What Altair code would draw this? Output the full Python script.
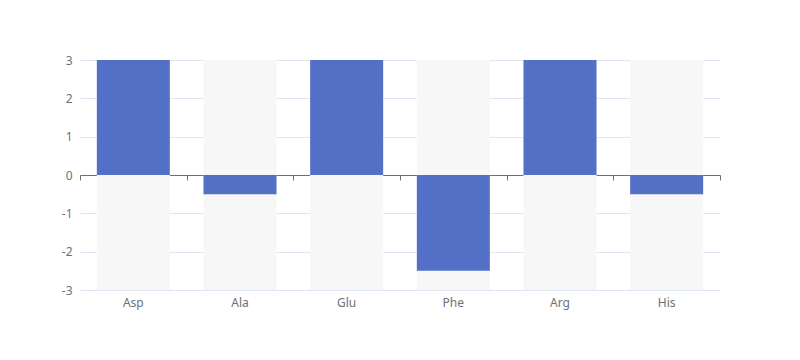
import altair as alt
import pandas as pd

categories = ["Asp", "Ala", "Glu", "Phe", "Arg", "His"]
values = [3, -0.5, 3, -2.5, 3, -0.5]
bg_low = [-3] * 6
bg_high = [3] * 6
tick_pos = [0, 1, 2, 3, 4, 5, 6]

df = pd.DataFrame({"cat": categories, "v": values, "lo": bg_low, "hi": bg_high})
tdf = pd.DataFrame({"t": tick_pos})

W, H = 640, 230
font = "Noto Sans"
axis_color = "#6e7079"

xscale = alt.Scale(domain=categories, paddingInner=0, paddingOuter=0)
yscale = alt.Scale(domain=[-3, 3], nice=False)

xaxis = alt.Axis(title=None, labelAngle=0, domain=False, ticks=False,
                 labelColor=axis_color, labelFont=font, labelFontSize=12,
                 labelPadding=7, grid=False)
yaxis = alt.Axis(title=None, values=[-3, -2, -1, 0, 1, 2, 3], domain=False,
                 ticks=False, labelColor=axis_color, labelFont=font,
                 labelFontSize=12, labelPadding=8, gridColor="#e0e6f1",
                 gridWidth=1, grid=True, labelExpr="toString(datum.value)")

bg = alt.Chart(df).mark_bar(color="#f7f7f7", size=73).encode(
    x=alt.X("cat:N", sort=categories, scale=xscale, axis=xaxis),
    y=alt.Y("lo:Q", scale=yscale, axis=yaxis),
    y2="hi:Q",
)

bars = alt.Chart(df).mark_bar(color="#5470c6", size=73).encode(
    x=alt.X("cat:N", sort=categories, scale=xscale, axis=xaxis),
    y=alt.Y("v:Q", scale=yscale, axis=yaxis),
    y2=alt.datum(0),
)

base = alt.layer(bg, bars)

zero_axis = alt.Chart(tdf).mark_point(opacity=0).encode(
    x=alt.X("t:Q", scale=alt.Scale(domain=[0, 6], nice=False),
            axis=alt.Axis(title=None, values=tick_pos, labels=False, grid=False,
                          domainColor=axis_color, tickColor=axis_color, tickSize=5,
                          offset=-H / 2, orient="bottom")),
    y=alt.value(H / 2),
)

chart = alt.layer(base, zero_axis).resolve_scale(x="independent").resolve_axis(
    x="independent"
).properties(
    width=W, height=H,
    background="white",
    autosize=alt.AutoSizeParams(type="none"),
    padding={"left": 72, "top": 52, "right": 72, "bottom": 62},
).configure_view(stroke="transparent", strokeWidth=0)

chart.save("out.html", embed_options={"renderer": "svg", "actions": False})
